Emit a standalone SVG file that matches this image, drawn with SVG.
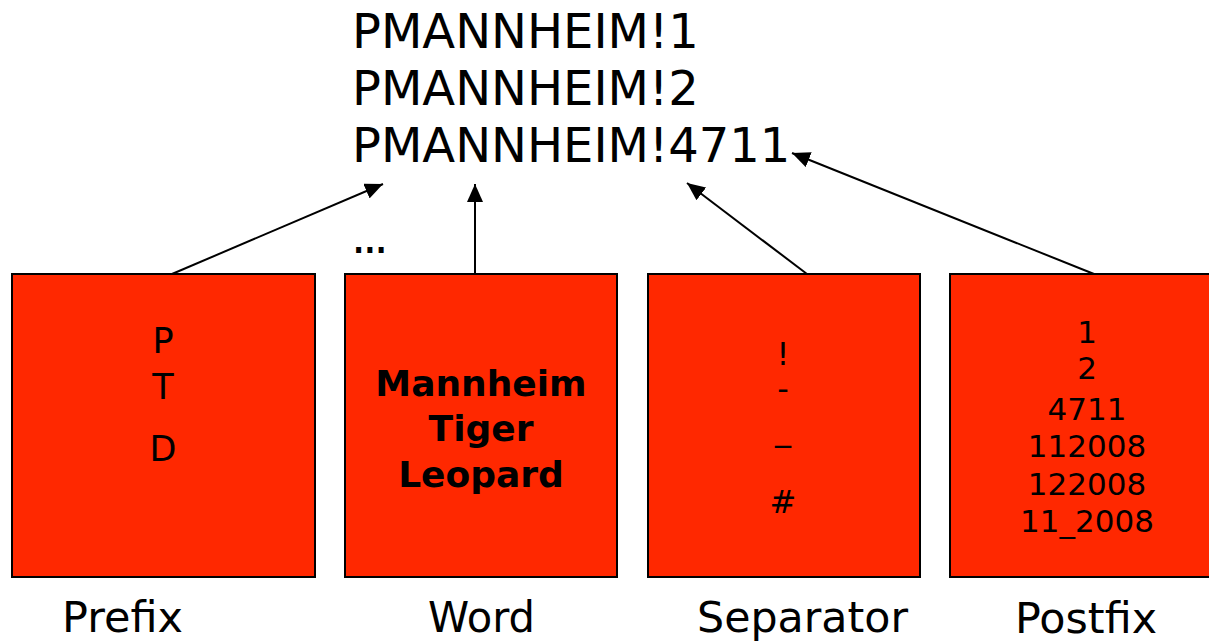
<svg xmlns="http://www.w3.org/2000/svg" width="1209" height="643" viewBox="0 0 1209 643">
<defs>
<style>
.t{font-family:"DejaVu Sans","Verdana",sans-serif;fill:#000}
.box{fill:#ff2800;stroke:#000;stroke-width:2}
.c{stroke:#000;stroke-width:2;fill:none;marker-end:url(#ah)}
</style>
<marker id="ah" markerUnits="userSpaceOnUse" markerWidth="20" markerHeight="16" viewBox="0 0 20 16" refX="18" refY="8" orient="auto">
<path d="M0,0 L18,8 L0,16 z" fill="#000"/>
</marker>
</defs>
<rect width="1209" height="643" fill="#fff"/>
<g id="title">
<text class="t" x="352" y="48" font-size="48">PMANNHEIM!1</text>
<text class="t" x="352" y="105" font-size="48">PMANNHEIM!2</text>
<text class="t" x="352" y="162" font-size="48">PMANNHEIM!4711</text>
<text class="t" x="351" y="253" font-size="48" letter-spacing="-4">...</text>
</g>
<g id="connectors">
<line class="c" x1="172" y1="274" x2="383" y2="184"/>
<line class="c" x1="475" y1="274" x2="475" y2="184"/>
<line class="c" x1="807" y1="274" x2="687" y2="183"/>
<line class="c" x1="1094" y1="274" x2="792" y2="153"/>
</g>
<g id="prefix">
<rect class="box" x="12" y="274" width="303" height="303"/>
<text class="t" x="163" y="353" font-size="35" text-anchor="middle">P</text>
<text class="t" x="163" y="399" font-size="35" text-anchor="middle">T</text>
<text class="t" x="163" y="461" font-size="35" text-anchor="middle">D</text>
</g>
<g id="word">
<rect class="box" x="345" y="274" width="272" height="303"/>
<text class="t" x="481" y="396" font-size="36" font-weight="bold" text-anchor="middle">Mannheim</text>
<text class="t" x="481" y="441" font-size="36" font-weight="bold" text-anchor="middle">Tiger</text>
<text class="t" x="481" y="487" font-size="36" font-weight="bold" text-anchor="middle">Leopard</text>
</g>
<g id="separator">
<rect class="box" x="648" y="274" width="272" height="303"/>
<text class="t" x="783" y="365" font-size="32" text-anchor="middle">!</text>
<text class="t" x="783" y="400" font-size="32" text-anchor="middle">-</text>
<text class="t" x="783" y="440" font-size="32" text-anchor="middle">_</text>
<text class="t" x="783" y="513" font-size="32" text-anchor="middle">#</text>
</g>
<g id="postfix">
<rect class="box" x="950" y="274" width="272" height="303"/>
<text class="t" x="1087" y="343" font-size="31" text-anchor="middle">1</text>
<text class="t" x="1087" y="379" font-size="31" text-anchor="middle">2</text>
<text class="t" x="1087" y="420" font-size="31" text-anchor="middle">4711</text>
<text class="t" x="1087" y="457" font-size="31" text-anchor="middle">112008</text>
<text class="t" x="1087" y="495" font-size="31" text-anchor="middle">122008</text>
<text class="t" x="1087" y="532" font-size="31" text-anchor="middle">11_2008</text>
</g>
<g id="labels">
<text class="t" x="62" y="632" font-size="42" textLength="121" lengthAdjust="spacingAndGlyphs">Prefix</text>
<text class="t" x="428" y="632" font-size="42" textLength="107" lengthAdjust="spacingAndGlyphs">Word</text>
<text class="t" x="697" y="632" font-size="42" textLength="211" lengthAdjust="spacingAndGlyphs">Separator</text>
<text class="t" x="1015" y="633" font-size="42" textLength="142" lengthAdjust="spacingAndGlyphs">Postfix</text>
</g>
</svg>
